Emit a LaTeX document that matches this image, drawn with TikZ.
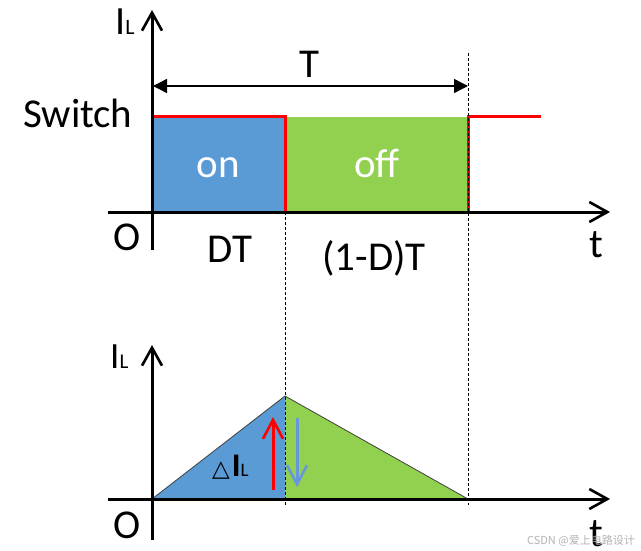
\documentclass[tikz,border=0pt]{standalone}
\usepackage{fontspec}
\setmainfont{Carlito}
\newfontfamily\cjk{Noto Sans CJK SC}
\newfontfamily\simbolo{DejaVu Sans}
\usetikzlibrary{arrows.meta}
\definecolor{azulon}{HTML}{5B9BD5}
\definecolor{verdeoff}{HTML}{92D050}
\definecolor{azulflecha}{HTML}{6896DC}
\tikzset{
  eje/.style={line width=3pt, -{Straight Barb[length=18pt,width=20pt,line width=2.6pt]}},
  senal/.style={line width=3pt, red, line join=miter},
  guia/.style={line width=0.9pt, dash pattern=on 3pt off 2pt},
  cota/.style={line width=1.4pt, {Triangle[length=14pt,width=14pt]}-{Triangle[length=14pt,width=14pt]}},
  rizo/.style={line width=3pt, -{Straight Barb[length=19pt,width=20pt,line width=2.6pt]}},
  etq/.style={inner sep=0pt, font=\fontsize{41}{41}\selectfont}
}
\begin{document}
\begin{tikzpicture}[x=1pt,y=-1pt]
    \useasboundingbox (0,0) rectangle (641,551);
    % Puntos de referencia
    \coordinate (A0) at (152,212);  \coordinate (A1) at (285,212);
    \coordinate (A2) at (468,212);
    \coordinate (H0) at (152,117);  \coordinate (H1) at (285,117);
    \coordinate (H2) at (468,117);  \coordinate (H3) at (541,117);
    \coordinate (B0) at (152,499);  \coordinate (B1) at (285,499);
    \coordinate (B2) at (468,499);  \coordinate (P) at (285,396);
    % Intervalos on / off
    \fill[azulon] (H0) rectangle (A1);
    \fill[verdeoff] (H1) rectangle (A2);
    % Corriente en la bobina
    \fill[azulon] (B0) -- (P) -- (B1) -- cycle;
    \fill[verdeoff] (P) -- (B2) -- (B1) -- cycle;
    \draw[line width=0.8pt, black!75] (B0) -- (P) -- (B2);
    % Senal de conmutacion
    \draw[senal] (H0) -- (H1) -- (A1) -- (A2) -- (H2) -- (H3);
    % Lineas guia
    \coordinate (G1) at (285,505);  \coordinate (G2) at (468,53);
    \coordinate (G3) at (468,505);
    \draw[guia] (A1) -- (G1);
    \draw[guia] (G2) -- (G3);
    % Ejes
    \coordinate (X0) at (108,212);  \coordinate (X1) at (610,212);
    \coordinate (Y0) at (152,250);  \coordinate (Y1) at (152,10);
    \coordinate (X2) at (108,499);  \coordinate (X3) at (610,499);
    \coordinate (Y2) at (152,540);  \coordinate (Y3) at (152,345);
    \draw[eje] (X0) -- (X1);
    \draw[eje] (Y0) -- (Y1);
    \draw[eje] (X2) -- (X3);
    \draw[eje] (Y2) -- (Y3);
    % Periodo T
    \coordinate (T0) at (153,86);  \coordinate (T1) at (468,86);
    \draw[cota] (T0) -- (T1);
    \node[etq, anchor=base] (lT) at (309,78) {T};
    % Rizado de corriente
    \coordinate (R0) at (273,490);  \coordinate (R1) at (273,417);
    \coordinate (R2) at (297,418);  \coordinate (R3) at (297,487);
    \draw[rizo, red] (R0) -- (R1);
    \draw[rizo, azulflecha] (R2) -- (R3);
    % Etiquetas
    \node[inner sep=0pt, anchor=base west] (lIa) at (115,35)
        {{\fontsize{40}{40}\selectfont I}{\fontsize{22}{22}\selectfont L}};
    \node[inner sep=0pt, anchor=base west] (lIb) at (110,368)
        {{\fontsize{37}{37}\selectfont I}{\fontsize{21}{21}\selectfont L}};
    \node[etq, anchor=base west] (lsw) at (23,128) {Switch};
    \node[etq, anchor=base, white] (lon) at (218,178) {on};
    \node[etq, anchor=base, white] (loff) at (377,178) {off};
    \node[etq, anchor=base] (lOa) at (127,250) {O};
    \node[etq, anchor=base] (lOb) at (127,538) {O};
    \node[etq, anchor=base] (lDT) at (230,262) {DT};
    \node[etq, anchor=base] (lDT2) at (374,270) {(1-D)T};
    \node[etq, anchor=base] (lta) at (596,258) {t};
    \node[etq, anchor=base] (ltb) at (596,546) {t};
    \node[inner sep=0pt, anchor=base west] (ldI) at (212,476)
        {{\simbolo\fontsize{23}{23}\selectfont △}\hspace{2pt}{\fontsize{33}{33}\selectfont\bfseries I}{\fontsize{19}{19}\selectfont L}};
    \node[inner sep=0pt, anchor=base east, text=black!30] (marca) at (635,544)
        {\cjk\fontsize{11}{11}\selectfont CSDN @爱上电路设计};
\end{tikzpicture}
\end{document}
